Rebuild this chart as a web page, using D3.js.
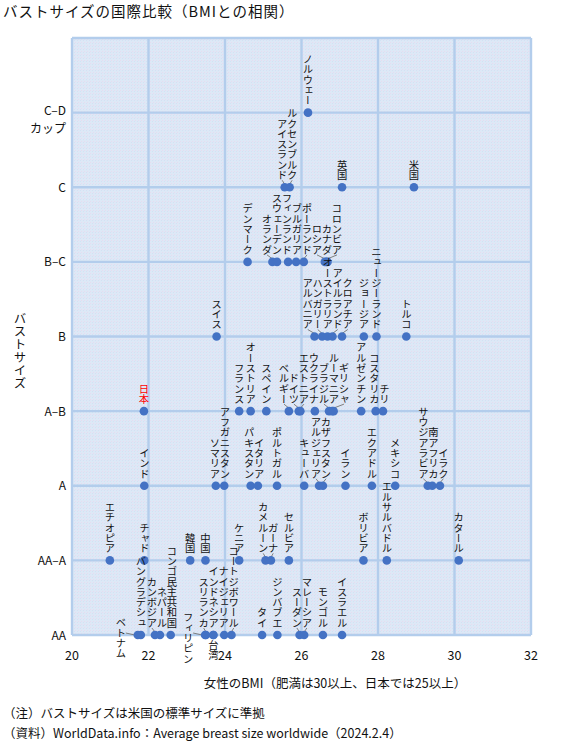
<!DOCTYPE html>
<html><head><meta charset="utf-8">
<script src="https://cdn.jsdelivr.net/npm/d3@7"></script>
<style>
body{margin:0;background:#fff;}
text{font-family:"Noto Sans CJK JP","Noto Sans",sans-serif;fill:#111;}
</style></head><body>
<svg id="chart" width="564" height="744"></svg>
<script>
// ---- data ----
const sizeLevels = ["AA","AA-A","A","A-B","B","B-C","C","C-D"];
const yTickText = [["AA"],["AA–A"],["A"],["A–B"],["B"],["B–C"],["C"],["C–D","カップ"]];
const xTicks = [20,22,24,26,28,30,32];

const countries = [
 "ノルウェー",
 "アイスランド","ルクセンブルク","英国","米国",
 "デンマーク","オランダ","スウェーデン","フィンランド","ブルガリア","ポーランド","ロシア","カナダ","コロンビア",
 "スイス","アルバニア","ハンガリー","オーストラリア","アイルランド","クロアチア","ジョージア","ニュージーランド","トルコ",
 "日本","フランス","オーストリア","スペイン","ベルギー","ドイツ","エストニア","ウクライナ","ブラジル","ルーマニア","ギリシャ","アルゼンチン","コスタリカ","チリ",
 "インド","ソマリア","アフガニスタン","パキスタン","イタリア","ポルトガル","キューバ","アルジェリア","カザフスタン","イラン","エクアドル","メキシコ","サウジアラビア","南アフリカ","イラク",
 "エチオピア","チャド","韓国","中国","ケニア","カメルーン","ガーナ","セルビア","ボリビア","エルサルバドル","カタール",
 "ベトナム","バングラデシュ","カンボジア","ネパール","コンゴ民主共和国","フィリピン","スリランカ","インドネシア","台湾","ナイジェリア","コートジボワール","タイ","ジンバブエ","スーダン","マレーシア","モンゴル","イスラエル"
];
const bmi = [
 26.17,
 25.56,25.69,27.06,28.94,
 24.59,25.24,25.36,25.65,25.86,26.06,26.61,26.65,26.68,
 23.78,26.34,26.54,26.68,26.81,27.06,27.63,27.96,28.74,
 21.88,24.37,24.67,25.08,25.67,25.93,25.97,26.35,26.72,26.80,26.84,27.56,27.94,28.13,
 21.89,23.76,23.98,24.67,24.86,25.36,26.07,26.46,26.56,27.15,27.84,28.45,29.30,29.42,29.62,
 20.99,21.89,23.09,23.49,24.37,25.06,25.20,25.67,27.62,28.23,30.11,
 21.72,21.80,22.17,22.30,22.58,23.48,23.50,23.69,23.70,23.98,24.17,24.97,25.37,25.95,26.07,26.56,27.06
];
const bustSize = [
 "C-D",
 "C","C","C","C",
 "B-C","B-C","B-C","B-C","B-C","B-C","B-C","B-C","B-C",
 "B","B","B","B","B","B","B","B","B",
 "A-B","A-B","A-B","A-B","A-B","A-B","A-B","A-B","A-B","A-B","A-B","A-B","A-B","A-B",
 "A","A","A","A","A","A","A","A","A","A","A","A","A","A","A",
 "AA-A","AA-A","AA-A","AA-A","AA-A","AA-A","AA-A","AA-A","AA-A","AA-A","AA-A",
 "AA","AA","AA","AA","AA","AA","AA","AA","AA","AA","AA","AA","AA","AA","AA","AA","AA"
];
// label placement groups (layout only)
const leftLabels = ["ベトナム","フィリピン"];
const belowLabels = ["台湾"];
const highlight = ["日本"];

const title = "バストサイズの国際比較（BMIとの相関）";
const xTitle = "女性のBMI（肥満は30以上、日本では25以上）";
const yTitle = "バストサイズ";
const notes = ["（注）バストサイズは米国の標準サイズに準拠",
               "（資料）WorldData.info：Average breast size worldwide（2024.2.4）"];

// ---- chart ----
const svg = d3.select("#chart");
const M = {left:72, right:531, top:38, bottom:635};
const x = d3.scaleLinear().domain([20,32]).range([M.left, M.right]);
const y = d3.scaleLinear().domain([0,8]).range([M.bottom, M.top]);

const defs = svg.append("defs");
const pat = defs.append("pattern").attr("id","dither").attr("width",3).attr("height",3)
  .attr("patternUnits","userSpaceOnUse");
pat.append("rect").attr("width",3).attr("height",3).attr("fill","#dde8f6");
pat.append("rect").attr("x",0).attr("y",0).attr("width",1).attr("height",1).attr("fill","#e6dcef");
pat.append("rect").attr("x",2).attr("y",1).attr("width",1).attr("height",1).attr("fill","#d3e1f3");

svg.append("rect").attr("x",M.left).attr("y",M.top)
  .attr("width",M.right-M.left).attr("height",M.bottom-M.top)
  .attr("fill","url(#dither)");

const gridColor = "#b3cdec";
svg.append("g").selectAll("line").data(xTicks).join("line")
  .attr("x1",d=>x(d)).attr("x2",d=>x(d)).attr("y1",M.top).attr("y2",M.bottom)
  .attr("stroke",gridColor).attr("stroke-width",2.4);
svg.append("g").selectAll("line").data(d3.range(0,9)).join("line")
  .attr("x1",M.left).attr("x2",M.right).attr("y1",d=>y(d)).attr("y2",d=>y(d))
  .attr("stroke",gridColor).attr("stroke-width",2.4);

// x tick labels
svg.append("g").selectAll("text").data(xTicks).join("text")
  .attr("x",d=>x(d)).attr("y",660).attr("text-anchor","middle")
  .attr("font-size",12.5).text(d=>d);

// y tick labels (one text element per line)
const yLines = [];
yTickText.forEach((lines,i)=>lines.forEach((t,j)=>yLines.push({t, i, j, n:lines.length})));
svg.append("g").selectAll("text").data(yLines).join("text")
  .attr("x",66).attr("text-anchor","end").attr("font-size",12)
  .attr("y",d=>y(d.i) + (d.n>1 ? 2.5 + d.j*18 : 4.5))
  .text(d=>d.t);

// titles
svg.append("text").attr("x",3).attr("y",17).attr("font-size",14.5).attr("letter-spacing",1).text(title);
svg.append("text").attr("x",335).attr("y",688).attr("text-anchor","middle").attr("font-size",12.5).text(xTitle);
svg.append("text").attr("x",20).attr("y",351).attr("text-anchor","middle")
  .attr("font-size",12.5).style("writing-mode","vertical-rl").attr("letter-spacing",0.5).text(yTitle);
svg.append("g").selectAll("text").data(notes).join("text")
  .attr("x",3).attr("y",(d,i)=>718+i*20).attr("font-size",12.5).text(d=>d);

// points
const data = countries.map((c,i)=>({name:c, bmi:bmi[i], lvl:sizeLevels.indexOf(bustSize[i])}));
data.forEach(d=>{
  d.cx = x(d.bmi); d.cy = y(d.lvl);
  d.mode = leftLabels.includes(d.name) ? "left" : belowLabels.includes(d.name) ? "below" : "above";
});

// label layout (1D spreading within each row and placement mode)
const GAP = 10;
function spread(items){
  items.sort((a,b)=>a.d-b.d);
  const cl=[];
  items.forEach(it=>{
    cl.push({m:[it], s:it.d});
    while(cl.length>1){
      const b=cl[cl.length-1], a=cl[cl.length-2];
      if(a.s + a.m.length*GAP > b.s){
        const m=a.m.concat(b.m);
        const s=d3.mean(m,(v,i)=>v.d - i*GAP);
        cl.splice(cl.length-2,2,{m,s});
      } else break;
    }
  });
  cl.forEach(c=>c.m.forEach((v,i)=>v.lx=c.s+i*GAP));
}
d3.groups(data, d=>d.lvl, d=>d.mode).forEach(([lvl,modes])=>{
  modes.forEach(([mode,items])=>{
    items.forEach(it=>it.d = mode==="left" ? it.cx-17 : it.cx);
    spread(items);
  });
});

// leader lines
const leaders = data.filter(d=>d.mode==="left" || Math.abs(d.lx-d.cx)>2);
svg.append("g").selectAll("line").data(leaders).join("line")
  .attr("x1",d=>d.mode==="left" ? d.lx+5 : d.lx)
  .attr("y1",d=>d.mode==="left" ? d.cy-2 : d.mode==="below" ? d.cy+7 : d.cy-7)
  .attr("x2",d=>d.mode==="left" ? d.cx-3 : d.cx)
  .attr("y2",d=>d.mode==="left" ? d.cy : d.mode==="below" ? d.cy+2 : d.cy-3)
  .attr("stroke","#7f7f7f").attr("stroke-width",1);

svg.append("g").selectAll("circle").data(data).join("circle")
  .attr("cx",d=>d.cx).attr("cy",d=>d.cy).attr("r",4.3).attr("fill","#4472c4");

svg.append("g").selectAll("text").data(data).join("text")
  .attr("x",d=>d.lx)
  .attr("y",d=>d.mode==="left" ? d.cy+3 : d.mode==="below" ? d.cy+5 : d.cy-7)
  .attr("text-anchor",d=>d.mode==="left" ? "middle" : d.mode==="below" ? "start" : "end")
  .attr("font-size",10.3)
  .style("writing-mode","vertical-rl")
  .style("fill",d=>highlight.includes(d.name)?"#ff0000":"#111")
  .text(d=>d.name);
</script>
</body></html>
